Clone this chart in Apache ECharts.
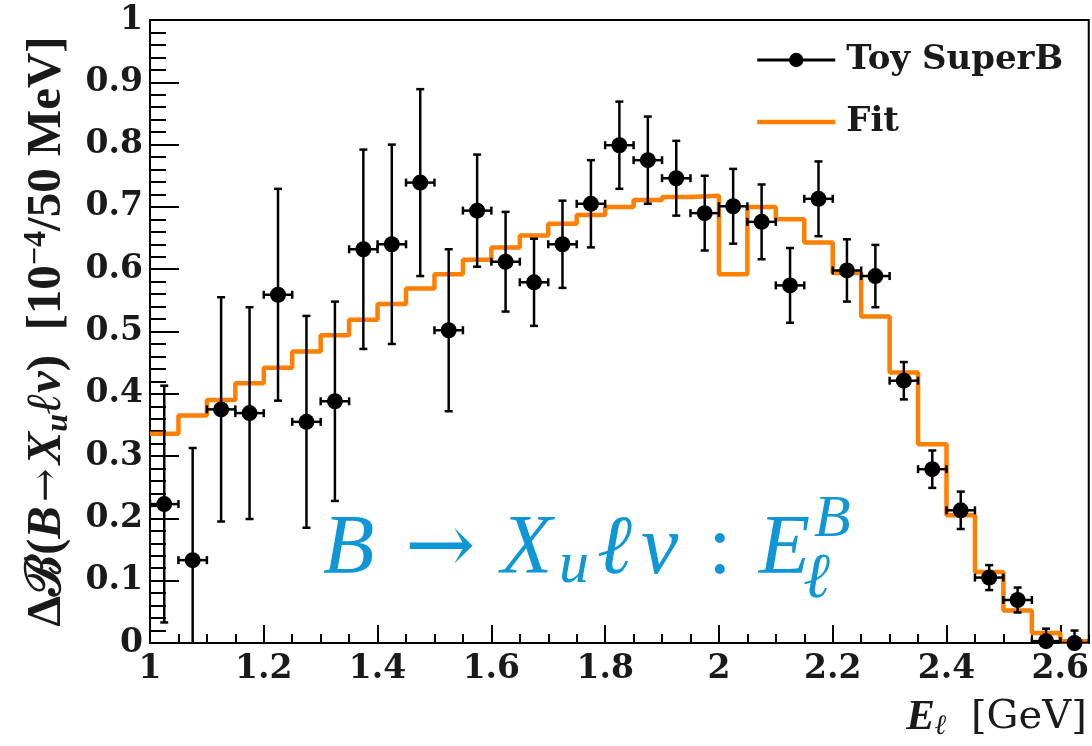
<!DOCTYPE html>
<html>
<head>
<meta charset="utf-8">
<script src="https://cdn.jsdelivr.net/npm/echarts@6/dist/echarts.min.js"></script>
<style>
  html, body { margin: 0; padding: 0; background: #ffffff; }
  #chart { width: 1092px; height: 746px; }
</style>
</head>
<body>
<div id="chart"></div>
<script>
// Lepton energy spectrum E_l in 50 MeV bins
const binCenters = [1.025, 1.075, 1.125, 1.175, 1.225, 1.275, 1.325, 1.375, 1.425, 1.475, 1.525,
                    1.575, 1.625, 1.675, 1.725, 1.775, 1.825, 1.875, 1.925, 1.975, 2.025, 2.075,
                    2.125, 2.175, 2.225, 2.275, 2.325, 2.375, 2.425, 2.475, 2.525, 2.575, 2.625];
const binHalfWidths = [0.025, 0.025, 0.025, 0.025, 0.025, 0.025, 0.025, 0.025, 0.025, 0.025, 0.025,
                       0.025, 0.025, 0.025, 0.025, 0.025, 0.025, 0.025, 0.025, 0.025, 0.025, 0.025,
                       0.025, 0.025, 0.025, 0.025, 0.025, 0.025, 0.025, 0.025, 0.025, 0.025, 0.025];
// Toy SuperB pseudo-data and statistical errors
const toyValues = [0.223, 0.133, 0.375, 0.369, 0.559, 0.355, 0.388, 0.632, 0.640, 0.739, 0.502,
                   0.694, 0.612, 0.579, 0.640, 0.705, 0.799, 0.775, 0.746, 0.690, 0.701, 0.676,
                   0.574, 0.713, 0.598, 0.589, 0.421, 0.279, 0.213, 0.105, 0.069, 0.003, 0.000];
const toyErrors = [0.19, 0.18, 0.18, 0.17, 0.17, 0.17, 0.16, 0.16, 0.16, 0.15, 0.13,
                   0.09, 0.08, 0.07, 0.07, 0.07, 0.07, 0.07, 0.06, 0.06, 0.06, 0.06,
                   0.06, 0.06, 0.05, 0.05, 0.03, 0.03, 0.03, 0.02, 0.02, 0.02, 0.02];
// Fitted spectrum, one value per bin (lower edges below, plus the upper edge of the last bin)
const fitEdges = [1.00, 1.05, 1.10, 1.15, 1.20, 1.25, 1.30, 1.35, 1.40, 1.45, 1.50, 1.55,
                  1.60, 1.65, 1.70, 1.75, 1.80, 1.85, 1.90, 1.95, 2.00, 2.05, 2.10, 2.15,
                  2.20, 2.25, 2.30, 2.35, 2.40, 2.45, 2.50, 2.55, 2.60, 2.65];
const fitValues = [0.336, 0.365, 0.390, 0.417, 0.442, 0.468, 0.494, 0.519, 0.544, 0.569, 0.592,
                   0.615, 0.635, 0.654, 0.673, 0.687, 0.700, 0.711, 0.716, 0.718, 0.592, 0.700,
                   0.680, 0.643, 0.594, 0.524, 0.434, 0.319, 0.205, 0.114, 0.052, 0.016, 0.003];

const FONT = "'DejaVu Serif', 'Liberation Serif', serif";
const TIMES = "'Liberation Serif', 'DejaVu Serif', serif";
const INK = '#1a1a1a';
const ORANGE = '#ff7f00';
const BLUE = '#0e96d6';

// step line: each edge carries the value of the bin that starts there
const fitLine = fitEdges.map((e, i) => [e, fitValues[Math.min(i, fitValues.length - 1)]]);
const toyPoints = binCenters.map((x, i) => [x, toyValues[i]]);
const toyBars = binCenters.map((x, i) => [x, toyValues[i], toyErrors[i], binHalfWidths[i]]);

function renderErrorBar(params, api) {
  const x = api.value(0), y = api.value(1), ey = api.value(2), ex = api.value(3);
  const yMin = api.coord([x, 0])[1];
  const c = api.coord([x, y]);
  const top = api.coord([x, y + ey]);
  const lowVal = y - ey;
  const bot = lowVal > 0 ? api.coord([x, lowVal]) : [c[0], yMin];
  const left = api.coord([x - ex, y]);
  const right = api.coord([x + ex, y]);
  const style = { stroke: '#000', lineWidth: 2.5 };
  const cap = 4;
  const kids = [
    { type: 'line', shape: { x1: c[0], y1: top[1], x2: c[0], y2: bot[1] }, style },
    { type: 'line', shape: { x1: c[0] - cap, y1: top[1], x2: c[0] + cap, y2: top[1] }, style },
    { type: 'line', shape: { x1: left[0], y1: c[1], x2: right[0], y2: c[1] }, style },
    { type: 'line', shape: { x1: left[0], y1: c[1] - cap, x2: left[0], y2: c[1] + cap }, style },
    { type: 'line', shape: { x1: right[0], y1: c[1] - cap, x2: right[0], y2: c[1] + cap }, style }
  ];
  if (lowVal > 0) {
    kids.push({ type: 'line', shape: { x1: c[0] - cap, y1: bot[1], x2: c[0] + cap, y2: bot[1] }, style });
  }
  return { type: 'group', children: kids };
}

const chart = echarts.init(document.getElementById('chart'), null, { renderer: 'canvas' });

const option = {
  backgroundColor: '#ffffff',
  animation: false,
  grid: {
    left: 150, right: 2, top: 20, bottom: 103,
    show: true, borderColor: '#000', borderWidth: 2, backgroundColor: 'transparent'
  },
  legend: {
    orient: 'vertical',
    left: 750, top: 38,
    itemWidth: 78, itemHeight: 18, itemGap: 28,
    textStyle: { fontFamily: FONT, fontWeight: 'bold', fontSize: 34, color: INK, padding: [0, 0, 0, 6] },
    data: [
      { name: 'Toy SuperB', lineStyle: { opacity: 1, width: 3, color: '#000' } },
      { name: 'Fit', lineStyle: { opacity: 1, width: 4.5, color: ORANGE }, itemStyle: { opacity: 0 } }
    ]
  },
  xAxis: [
    {
      type: 'value', min: 1, max: 2.65, interval: 0.2,
      name: '{e|E}{s|ℓ}{u|[GeV]}',
      nameLocation: 'end', nameGap: 0,
      nameTextStyle: {
        align: 'right', verticalAlign: 'top', padding: [52, 2, 0, 0],
        rich: {
          e: { fontFamily: TIMES, fontStyle: 'italic', fontWeight: 'bold', fontSize: 43, color: INK, lineHeight: 46 },
          s: { fontFamily: TIMES, fontStyle: 'italic', fontWeight: 'bold', fontSize: 28, color: INK, lineHeight: 30, verticalAlign: 'bottom', padding: [0, 24, 0, 0] },
          u: { fontFamily: FONT, fontSize: 40, color: INK, lineHeight: 46 }
        }
      },
      axisLine: { show: true, lineStyle: { color: '#000', width: 2 } },
      axisTick: { show: true, inside: true, length: 18, lineStyle: { color: '#000', width: 2 } },
      splitLine: { show: false },
      axisLabel: {
        showMaxLabel: false, margin: 10,
        fontFamily: FONT, fontWeight: 'bold', fontSize: 33, color: INK
      }
    },
    {
      type: 'value', min: 1, max: 2.65, interval: 0.05,
      position: 'bottom',
      axisLine: { show: false },
      axisTick: { show: true, inside: true, length: 9, lineStyle: { color: '#000', width: 2 } },
      axisLabel: { show: false },
      splitLine: { show: false }
    }
  ],
  yAxis: {
    type: 'value', min: 0, max: 1, interval: 0.1,
    name: '{t|Δℬ(}{i|B}{a|→}{i|X}{s|u}{i|ℓν}{t|)  [10}{p|−4}{t|/50 MeV]}',
    nameLocation: 'middle', nameRotate: 90, nameGap: 64,
    nameTextStyle: {
      rich: {
        t: { fontFamily: TIMES, fontWeight: 'bold', fontSize: 49, color: INK, lineHeight: 54 },
        i: { fontFamily: TIMES, fontWeight: 'bold', fontStyle: 'italic', fontSize: 49, color: INK, lineHeight: 54 },
        a: { fontFamily: FONT, fontSize: 40, color: INK, lineHeight: 54, padding: [0, 4, 0, 4] },
        s: { fontFamily: TIMES, fontWeight: 'bold', fontStyle: 'italic', fontSize: 32, color: INK, lineHeight: 28, verticalAlign: 'bottom' },
        p: { fontFamily: TIMES, fontWeight: 'bold', fontSize: 32, color: INK, lineHeight: 28, verticalAlign: 'top' }
      }
    },
    axisLine: { show: true, lineStyle: { color: '#000', width: 2 } },
    axisTick: { show: true, inside: true, length: 29, lineStyle: { color: '#000', width: 2 } },
    minorTick: { show: true, splitNumber: 5, length: 16, lineStyle: { color: '#000', width: 2 } },
    splitLine: { show: false },
    axisLabel: { margin: 7, fontFamily: FONT, fontWeight: 'bold', fontSize: 33, color: INK }
  },
  series: [
    {
      name: 'Fit', type: 'line', step: 'end',
      data: fitLine, showSymbol: false, symbol: 'none',
      lineStyle: { color: ORANGE, width: 4.5 },
      itemStyle: { color: ORANGE },
      z: 2, clip: true
    },
    {
      name: 'Toy SuperB errors', type: 'custom',
      data: toyBars, renderItem: renderErrorBar,
      encode: { x: 0, y: 1 }, clip: true, z: 3, silent: true
    },
    {
      name: 'Toy SuperB', type: 'line',
      data: toyPoints, symbol: 'circle', symbolSize: 16, showSymbol: true,
      lineStyle: { opacity: 0, width: 0 },
      itemStyle: { color: '#000' },
      z: 4
    }
  ],
  graphic: [
    {
      type: 'group', left: 323, top: 490,
      children: [
        {
          type: 'text', x: 0, y: 0,
          style: {
            text: '{b|B}{a|→}{x|X}{s|u}{l|ℓ}{n|ν}{c|:}{e|E}',
            rich: {
              b: { fontFamily: TIMES, fontStyle: 'italic', fontSize: 84, fill: BLUE, lineHeight: 90, width: 82 },
              a: { fontFamily: FONT, fontSize: 84, fill: BLUE, lineHeight: 90, width: 96 },
              x: { fontFamily: TIMES, fontStyle: 'italic', fontSize: 84, fill: BLUE, lineHeight: 90, width: 58 },
              s: { fontFamily: TIMES, fontStyle: 'italic', fontSize: 60, fill: BLUE, lineHeight: 28, verticalAlign: 'bottom', width: 38 },
              l: { fontFamily: TIMES, fontStyle: 'italic', fontSize: 84, fill: BLUE, lineHeight: 90, width: 44 },
              n: { fontFamily: TIMES, fontStyle: 'italic', fontSize: 84, fill: BLUE, lineHeight: 90, width: 59 },
              c: { fontFamily: TIMES, fontSize: 84, fill: BLUE, lineHeight: 90, width: 40, align: 'center' },
              e: { fontFamily: TIMES, fontStyle: 'italic', fontSize: 84, fill: BLUE, lineHeight: 90, width: 70, align: 'right' }
            }
          }
        },
        {
          type: 'text', x: 491, y: -16,
          style: { text: 'B', fontFamily: TIMES, fontStyle: 'italic', fontSize: 60, fill: BLUE }
        },
        {
          type: 'text', x: 480, y: 42,
          style: { text: 'ℓ', fontFamily: TIMES, fontStyle: 'italic', fontSize: 64, fill: BLUE }
        }
      ]
    }
  ]
};

chart.setOption(option);
</script>
</body>
</html>
